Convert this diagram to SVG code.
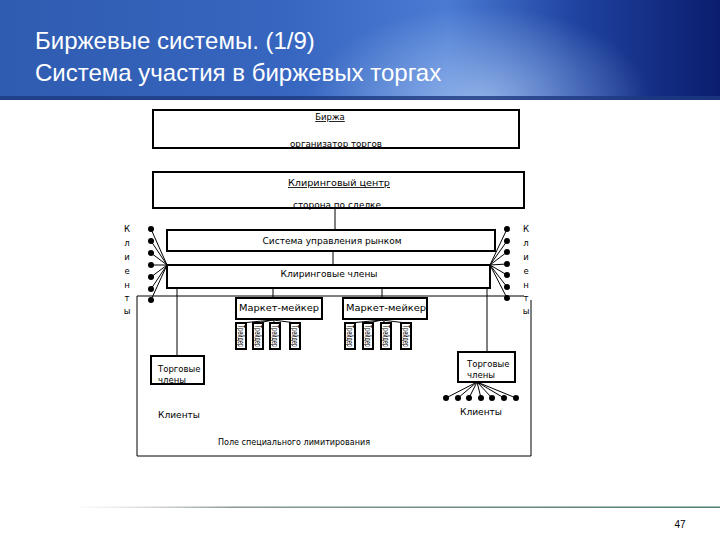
<svg xmlns="http://www.w3.org/2000/svg" width="720" height="540" viewBox="0 0 720 540">
<defs>
<linearGradient id="hdr" x1="0" y1="0" x2="1" y2="0">
<stop offset="0" stop-color="#2f5cb0"/>
<stop offset="0.4" stop-color="#3766c0"/>
<stop offset="0.62" stop-color="#4a7bd3"/>
<stop offset="0.8" stop-color="#1f43a0"/>
<stop offset="1" stop-color="#0b1d6e"/>
</linearGradient>
<radialGradient id="glow" cx="480" cy="100" r="170" gradientUnits="userSpaceOnUse" gradientTransform="translate(480 100) scale(1 0.55) translate(-480 -100)">
<stop offset="0" stop-color="#a9c6f2" stop-opacity="0.75"/>
<stop offset="1" stop-color="#a9c6f2" stop-opacity="0"/>
</radialGradient>
<linearGradient id="foot" x1="0" y1="0" x2="1" y2="0">
<stop offset="0" stop-color="#c8c8c8" stop-opacity="0"/>
<stop offset="0.25" stop-color="#8a9a98"/>
<stop offset="1" stop-color="#4f7e74"/>
</linearGradient>
<style>
.box{fill:#fff;stroke:#000;stroke-width:2}
.ln{fill:none;stroke:#000;stroke-width:1}
.t{font-family:"DejaVu Sans","Liberation Sans",sans-serif;font-size:8.5px;fill:#000}
.title{font-family:"Liberation Sans",Arial,sans-serif;font-size:24px;fill:#fff}
.dot{fill:#000}
</style>
</defs>

<g id="header">
<rect x="0" y="0" width="720" height="100" fill="url(#hdr)"/>
<rect x="0" y="0" width="720" height="100" fill="url(#glow)"/>
<rect x="0" y="96" width="720" height="4" fill="#1d3a80" opacity="0.8"/>
<text class="title" x="35" y="49">Биржевые системы. (1/9)</text>
<text class="title" x="35" y="81">Система участия в биржевых торгах</text>
</g>

<g id="footer">
<rect x="70" y="506.5" width="650" height="1.5" fill="url(#foot)"/>
<text x="680" y="528" text-anchor="middle" font-family="Liberation Sans, sans-serif" font-size="10" fill="#000">47</text>
</g>

<g id="connectors">
<path class="ln" d="M137,296 H524 M531,300 V456 H137 V296"/>
<line class="ln" x1="335" y1="209" x2="335" y2="230"/>
<line class="ln" x1="333" y1="251" x2="333" y2="265"/>
<line class="ln" x1="177" y1="288" x2="177" y2="356"/>
<line class="ln" x1="273" y1="288" x2="273" y2="298"/>
<line class="ln" x1="382" y1="288" x2="382" y2="298"/>
<line class="ln" x1="487" y1="288" x2="487" y2="352"/>
<path class="ln" d="M151,229 L167,265 M151,241 L167,265 M151,253 L167,265 M151,265 L167,265 M151,277 L167,265 M151,289 L167,265 M151,300 L167,265"/>
<path class="ln" d="M507,229 L490,265 M507,241 L490,265 M507,252 L490,265 M507,264 L490,265 M507,275 L490,265 M507,287 L490,265 M507,298 L490,265"/>
<path class="ln" d="M273,320 L241,323 M273,320 L258,323 M273,320 L275,323 M273,320 L296,323"/>
<path class="ln" d="M382,320 L350,323 M382,320 L368,323 M382,320 L386,323 M382,320 L406,323"/>
<path class="ln" d="M477,382 L446,398 M477,382 L458,398 M477,382 L469,398 M477,382 L481,398 M477,382 L492,398 M477,382 L504,398 M477,382 L516,398"/>
</g>

<g id="dots">
<circle class="dot" cx="151" cy="229" r="3"/><circle class="dot" cx="151" cy="241" r="3"/><circle class="dot" cx="151" cy="253" r="3"/><circle class="dot" cx="151" cy="265" r="3"/><circle class="dot" cx="151" cy="277" r="3"/><circle class="dot" cx="151" cy="289" r="3"/><circle class="dot" cx="151" cy="300" r="3"/>
<circle class="dot" cx="507" cy="229" r="3"/><circle class="dot" cx="507" cy="241" r="3"/><circle class="dot" cx="507" cy="252" r="3"/><circle class="dot" cx="507" cy="264" r="3"/><circle class="dot" cx="507" cy="275" r="3"/><circle class="dot" cx="507" cy="287" r="3"/><circle class="dot" cx="507" cy="298" r="3"/>
<circle class="dot" cx="446" cy="398" r="3"/><circle class="dot" cx="458" cy="398" r="3"/><circle class="dot" cx="469" cy="398" r="3"/><circle class="dot" cx="481" cy="398" r="3"/><circle class="dot" cx="492" cy="398" r="3"/><circle class="dot" cx="504" cy="398" r="3"/><circle class="dot" cx="516" cy="398" r="3"/>
</g>

<g id="birzha">
<rect class="box" x="153" y="110" width="366" height="38"/>
<text class="t" x="330" y="120" text-anchor="middle" text-decoration="underline">Биржа</text>
<text class="t" x="336" y="147" text-anchor="middle" textLength="92" lengthAdjust="spacingAndGlyphs">организатор торгов</text>
</g>

<g id="clearing-center">
<rect class="box" x="153" y="172" width="371" height="36"/>
<text class="t" x="339" y="186" text-anchor="middle" font-size="9.5" text-decoration="underline" textLength="102" lengthAdjust="spacingAndGlyphs">Клиринговый центр</text>
<text class="t" x="337" y="208" text-anchor="middle" textLength="88" lengthAdjust="spacingAndGlyphs">сторона по сделке</text>
</g>

<g id="market-control">
<rect class="box" x="167" y="230" width="328" height="21"/>
<text class="t" x="332" y="244" text-anchor="middle" textLength="139" lengthAdjust="spacingAndGlyphs">Система управления рынком</text>
</g>

<g id="clearing-members">
<rect class="box" x="167" y="265" width="323" height="23"/>
<text class="t" x="329" y="277" text-anchor="middle" textLength="97" lengthAdjust="spacingAndGlyphs">Клиринговые члены</text>
</g>

<g id="clients-left-label">
<text class="t" x="127" y="232" text-anchor="middle">К</text>
<text class="t" x="127" y="246" text-anchor="middle">л</text>
<text class="t" x="127" y="260" text-anchor="middle">и</text>
<text class="t" x="127" y="274" text-anchor="middle">е</text>
<text class="t" x="127" y="288" text-anchor="middle">н</text>
<text class="t" x="127" y="301" text-anchor="middle">т</text>
<text class="t" x="127" y="314" text-anchor="middle">ы</text>
</g>

<g id="clients-right-label">
<text class="t" x="526" y="232" text-anchor="middle">К</text>
<text class="t" x="526" y="246" text-anchor="middle">л</text>
<text class="t" x="526" y="260" text-anchor="middle">и</text>
<text class="t" x="526" y="274" text-anchor="middle">е</text>
<text class="t" x="526" y="288" text-anchor="middle">н</text>
<text class="t" x="526" y="301" text-anchor="middle">т</text>
<text class="t" x="526" y="314" text-anchor="middle">ы</text>
</g>

<g id="market-maker-1">
<rect class="box" x="236" y="298" width="86" height="21"/>
<text class="t" x="239" y="311" textLength="80" lengthAdjust="spacingAndGlyphs">Маркет-мейкер</text>
</g>

<g id="market-maker-2">
<rect class="box" x="343" y="298" width="84" height="21"/>
<text class="t" x="346" y="311" textLength="80" lengthAdjust="spacingAndGlyphs">Маркет-мейкер</text>
</g>

<g id="traders-1">
<rect class="box" x="236" y="323" width="10" height="26"/>
<text class="t" transform="translate(238 325) rotate(90)" font-size="7" textLength="22" lengthAdjust="spacingAndGlyphs">Трейдер</text>
<rect class="box" x="253" y="323" width="10" height="26"/>
<text class="t" transform="translate(255 325) rotate(90)" font-size="7" textLength="22" lengthAdjust="spacingAndGlyphs">Трейдер</text>
<rect class="box" x="270" y="323" width="10" height="26"/>
<text class="t" transform="translate(272 325) rotate(90)" font-size="7" textLength="22" lengthAdjust="spacingAndGlyphs">Трейдер</text>
<rect class="box" x="290" y="323" width="10" height="26"/>
<text class="t" transform="translate(292 325) rotate(90)" font-size="7" textLength="22" lengthAdjust="spacingAndGlyphs">Трейдер</text>
</g>

<g id="traders-2">
<rect class="box" x="345" y="323" width="10" height="26"/>
<text class="t" transform="translate(347 325) rotate(90)" font-size="7" textLength="22" lengthAdjust="spacingAndGlyphs">Трейдер</text>
<rect class="box" x="363" y="323" width="10" height="26"/>
<text class="t" transform="translate(365 325) rotate(90)" font-size="7" textLength="22" lengthAdjust="spacingAndGlyphs">Трейдер</text>
<rect class="box" x="381" y="323" width="10" height="26"/>
<text class="t" transform="translate(383 325) rotate(90)" font-size="7" textLength="22" lengthAdjust="spacingAndGlyphs">Трейдер</text>
<rect class="box" x="401" y="323" width="10" height="26"/>
<text class="t" transform="translate(403 325) rotate(90)" font-size="7" textLength="22" lengthAdjust="spacingAndGlyphs">Трейдер</text>
</g>

<g id="trade-members-left">
<rect class="box" x="151" y="356" width="53" height="28"/>
<text class="t" x="158" y="372" font-size="8">Торговые</text>
<text class="t" x="158" y="383" font-size="8">члены</text>
</g>

<g id="trade-members-right">
<rect class="box" x="458" y="352" width="57" height="30"/>
<text class="t" x="467" y="367" font-size="8">Торговые</text>
<text class="t" x="467" y="378" font-size="8">члены</text>
</g>

<g id="clients-left">
<text class="t" x="158" y="418" font-size="9.5" textLength="42" lengthAdjust="spacingAndGlyphs">Клиенты</text>
</g>

<g id="clients-right">
<text class="t" x="460" y="415" font-size="9.5" textLength="42" lengthAdjust="spacingAndGlyphs">Клиенты</text>
</g>

<g id="special-limit-field">
<text class="t" x="218" y="445" font-size="8" textLength="152" lengthAdjust="spacingAndGlyphs">Поле специального лимитирования</text>
</g>
</svg>
